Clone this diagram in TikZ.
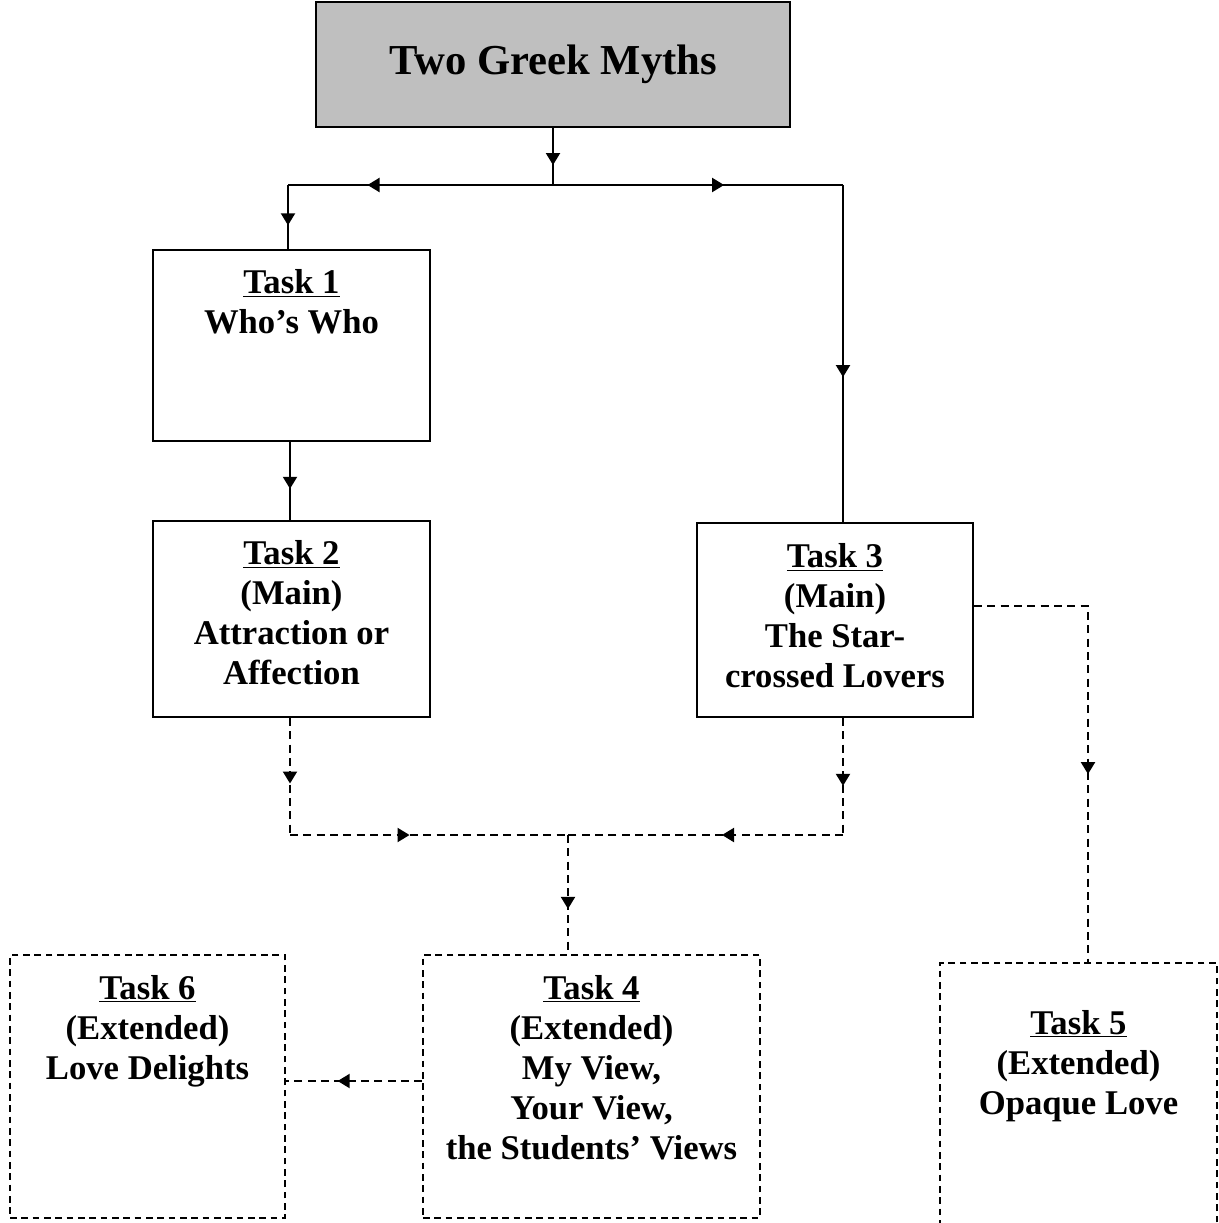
\documentclass[tikz,border=0pt]{standalone}
\usepackage{fontspec}
\setmainfont{Liberation Serif}
\usetikzlibrary{arrows.meta,decorations.markings}

\tikzset{
  taskbox/.style={draw, line width=1.5pt, inner sep=0pt},
  dashbox/.style={draw, line width=1.2pt, dash pattern=on 5pt off 3.5pt, inner sep=0pt},
  tasktext/.style={anchor=north, align=center, inner sep=0pt,
    font=\fontsize{26}{30}\selectfont\bfseries},
  link/.style={line width=1.5pt},
  dashlink/.style={line width=1.5pt, dash pattern=on 6pt off 4pt},
  midarrow/.style={postaction={decorate, decoration={markings,
    mark=at position #1 with {\arrow{Triangle[length=9pt,width=10.5pt]}}}}}
}

\begin{document}
\begin{tikzpicture}[x=0.75pt,y=0.75pt,yscale=-1,xscale=1]
\useasboundingbox (0,0) rectangle (1219,1223);
\clip (0,0) rectangle (1219,1223);

% Title Node
\node [taskbox, fill=gray!50, minimum width=355.5pt, minimum height=93.75pt,
  font=\fontsize{32}{38}\selectfont\bfseries] (title) at (553,64.5) {\raisebox{-1.5pt}{Two Greek Myths}};

% Box Nodes
\node [taskbox, minimum width=207.75pt, minimum height=143.25pt] (t1) at (291.5,345.5) {};
\node [taskbox, minimum width=207.75pt, minimum height=147pt] (t2) at (291.5,619) {};
\node [taskbox, minimum width=207pt, minimum height=145.5pt] (t3) at (835,620) {};
\node [dashbox, minimum width=206.25pt, minimum height=197.25pt] (t6) at (147.5,1086.5) {};
\node [dashbox, minimum width=252.75pt, minimum height=197.25pt] (t4) at (591.5,1086.5) {};
\node [dashbox, minimum width=207.75pt, minimum height=207.75pt] (t5) at (1078.5,1101.5) {};

% Text Node
\node [tasktext] (t1txt) at ([yshift=15.5pt]t1.north) {\underline{Task 1}\\Who’s Who};
% Text Node
\node [tasktext] (t2txt) at ([yshift=15.5pt]t2.north) {\underline{Task 2}\\(Main)\\Attraction or\\Affection};
% Text Node
\node [tasktext] (t3txt) at ([yshift=16pt]t3.north) {\underline{Task 3}\\(Main)\\The Star-\\crossed Lovers};
% Text Node
\node [tasktext] (t6txt) at ([yshift=15.5pt]t6.north) {\underline{Task 6}\\(Extended)\\Love Delights};
% Text Node
\node [tasktext] (t4txt) at ([yshift=15.5pt]t4.north) {\underline{Task 4}\\(Extended)\\My View,\\Your View,\\the Students’ Views};
% Text Node
\node [tasktext] (t5txt) at ([yshift=36pt]t5.north) {\underline{Task 5}\\(Extended)\\Opaque Love};

% Junctions
\coordinate (hub) at (553,185);
\coordinate (hubL) at (288,185);
\coordinate (hubR) at (843,185);
\coordinate (jL) at (290,835);
\coordinate (jR) at (843,835);
\coordinate (jM) at (568,835);
\coordinate (k5) at (1088,606);
\coordinate (m6) at (0,1081);

% Connection
\draw [link, midarrow=0.65] (title.south -| hub) -- (hub);
\draw [link, midarrow=0.70] (hub) -- (hubL);
\draw [link, midarrow=0.63] (hubL) -- (hubL |- t1.north);
\draw [link, midarrow=0.59] (hub) -- (hubR);
\draw [link, midarrow=0.57] (hubR) -- (hubR |- t3.north);

% Connection
\draw [link, midarrow=0.6] (jL |- t1.south) -- (jL |- t2.north);

% Connection
\draw [dashlink, midarrow=0.56] (jL |- t2.south) -- (jL);
\draw [dashlink, midarrow=0.43] (jL) -- (jM);
\draw [dashlink, midarrow=0.58] (jR |- t3.south) -- (jR);
\draw [dashlink, midarrow=0.44] (jR) -- (jM);
\draw [dashlink, midarrow=0.62] (jM) -- (jM |- t4.north);

% Connection
\draw [dashlink, midarrow=0.6] (t3.east |- k5) -- (k5) -- (k5 |- t5.north);

% Connection
\draw [dashlink, midarrow=0.62] (t4.west |- m6) -- (t6.east |- m6);

\end{tikzpicture}
\end{document}
